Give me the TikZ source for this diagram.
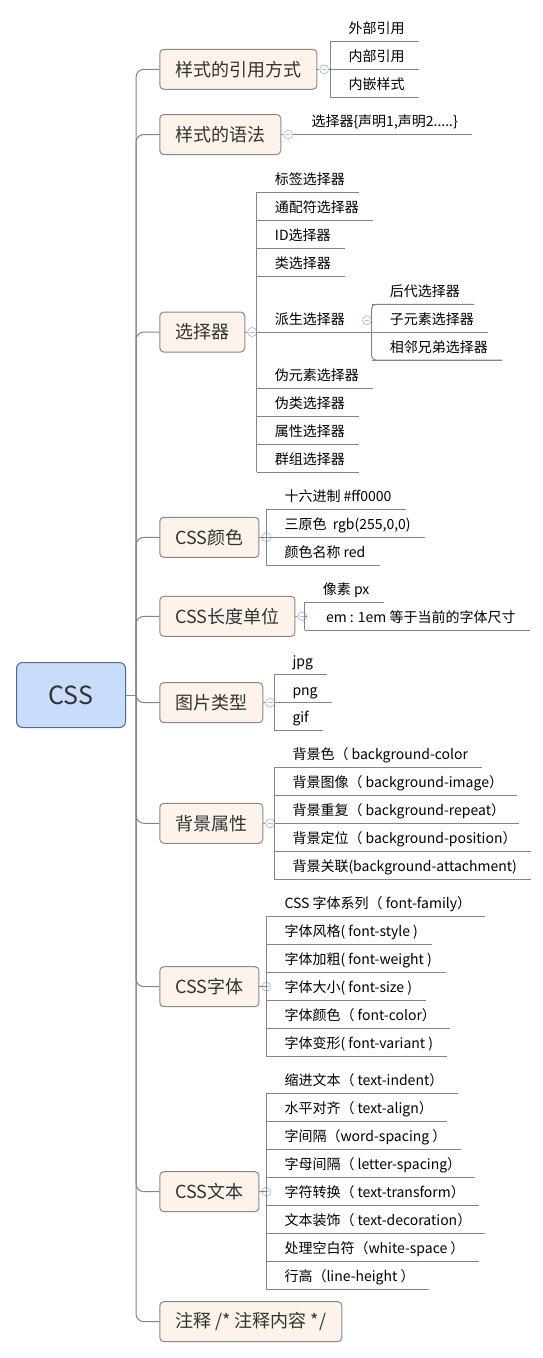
\documentclass[tikz,border=0pt]{standalone}
\usepackage{fontspec}
\setmainfont{Noto Sans CJK SC}
\usetikzlibrary{positioning}
\definecolor{rootfill}{HTML}{C9DCF9}
\definecolor{rootline}{HTML}{4F6B95}
\definecolor{boxfill}{HTML}{FDF3EA}
\definecolor{boxline}{HTML}{8E8781}
\definecolor{linegray}{HTML}{858585}
\definecolor{foldblue}{HTML}{A9C2EA}
\definecolor{txtgray}{HTML}{333333}
\begin{document}
\begin{tikzpicture}[x=1pt,y=-1pt,
    root/.style={draw=rootline,fill=rootfill,rounded corners=6pt,line width=1pt,
      minimum width=109pt,minimum height=65pt,text=txtgray,font=\fontsize{25}{28}\selectfont},
    topic/.style={draw=boxline,fill=boxfill,rounded corners=4pt,line width=1pt,anchor=west,
      minimum height=40pt,inner xsep=15.5pt,text=txtgray,font=\fontsize{18}{21}\selectfont},
    fold/.style={circle,draw=foldblue,fill=white,line width=0.8pt,inner sep=0pt,minimum size=9pt,
      path picture={\draw[foldblue,line width=0.8pt] ([xshift=-2.3pt]path picture bounding box.center) -- ([xshift=2.3pt]path picture bounding box.center);}},
    branch/.style={draw=linegray,line width=1pt,rounded corners=8pt},
    stem/.style={draw=linegray,line width=1pt},
    leaf/.style={anchor=south west,inner sep=0pt,text height=11pt,text depth=3pt,minimum height=23pt,
      font=\fontsize{14}{16}\selectfont,execute at begin node={\hspace*{18pt}},execute at end node={\hspace*{14pt}},
      append after command={(\tikzlastnode.south west) edge[stem] (\tikzlastnode.south east)}}]
    \useasboundingbox (0,0) rectangle (543,1358);
    % Root box
    \node[root] (css) at (71,695) {CSS};
    \coordinate (hub) at (136,695);
    \draw[stem] (css) -- (hub);
    % Main topic boxes
    \node[topic] (ref) at (159.3,69.3) {样式的引用方式};
    \node[topic] (syn) at (159.3,134.5) {样式的语法};
    \node[topic] (sel) at (159.3,332) {选择器};
    \node[topic] (col) at (159.3,537.3) {CSS颜色};
    \node[topic] (len) at (159.3,616.3) {CSS长度单位};
    \node[topic] (img) at (159.3,702.7) {图片类型};
    \node[topic] (bg) at (159.3,823.3) {背景属性};
    \node[topic] (fnt) at (159.3,986.7) {CSS字体};
    \node[topic] (txt) at (159.3,1191.7) {CSS文本};
    \node[topic] (cmt) at (159.3,1321.7) {注释 /* 注释内容 */};
    % Trunk and branches
    \foreach \t in {ref,syn,sel,col,len,img,bg,fnt,txt,cmt}
      \draw[branch] (hub) |- (\t.west);
    % Fold markers
    \node[fold,right=2pt of ref] (refF) {};
    \node[fold,right=2pt of syn] (synF) {};
    \node[fold,right=2pt of sel] (selF) {};
    \node[fold,right=2pt of col] (colF) {};
    \node[fold,right=2pt of len] (lenF) {};
    \node[fold,right=2pt of img] (imgF) {};
    \node[fold,right=2pt of bg] (bgF) {};
    \node[fold,right=2pt of fnt] (fntF) {};
    \node[fold,right=2pt of txt] (txtF) {};
    % Reference ways
    \node[leaf] (ref1) at (330.3,41.3) {外部引用};
    \node[leaf] (ref2) at (330.3,69.3) {内部引用};
    \node[leaf] (ref3) at (330.3,97.3) {内嵌样式};
    \draw[stem] (ref1.south west) -- (ref3.south west);
    \draw[stem] (ref) -- (refF) -- (refF -| ref1.south west);
    % Syntax
    \node[leaf] (syn1) at (293.3,134.5) {选择器\{声明1,声明2.....\}};
    \draw[stem] (syn) -- (synF) -- (syn1.south west);
    % Selectors
    \node[leaf] (sel1) at (256.7,192.3) {标签选择器};
    \node[leaf] (sel2) at (256.7,220) {通配符选择器};
    \node[leaf] (sel3) at (256.7,248.3) {ID选择器};
    \node[leaf] (sel4) at (256.7,276) {类选择器};
    \node[leaf] (sel5) at (256.7,332) {派生选择器};
    \node[leaf] (sel6) at (256.7,388) {伪元素选择器};
    \node[leaf] (sel7) at (256.7,416) {伪类选择器};
    \node[leaf] (sel8) at (256.7,444) {属性选择器};
    \node[leaf] (sel9) at (256.7,472) {群组选择器};
    \draw[stem] (sel1.south west) -- (sel9.south west);
    \draw[stem] (sel) -- (selF) -- (selF -| sel1.south west);
    % Derived selectors
    \node[fold,right=3pt of sel5] (derF) {};
    \node[leaf] (der1) at (371.7,304.3) {后代选择器};
    \node[leaf] (der2) at (371.7,332) {子元素选择器};
    \node[leaf] (der3) at (371.7,360) {相邻兄弟选择器};
    \draw[stem,rounded corners=4pt] (der1.south east) -- (der1.south west) -- (der3.south west) -- (der3.south east);
    \draw[stem] (sel5.south east) -- (der2.south west);
    % Colours
    \node[leaf] (col1) at (266.3,509) {十六进制 \#ff0000};
    \node[leaf] (col2) at (266.3,537.3) {三原色~~rgb(255,0,0)};
    \node[leaf] (col3) at (266.3,565) {颜色名称 red};
    \draw[stem] (col1.south west) -- (col3.south west);
    \draw[stem] (col) -- (colF) -- (colF -| col1.south west);
    % Length units
    \node[leaf] (len1) at (304.7,602.3) {像素 px};
    \node[leaf] (len2) at (304.7,630) {~em : 1em 等于当前的字体尺寸};
    \draw[stem] (len1.south west) -- (len2.south west);
    \draw[stem] (len) -- (lenF) -- (lenF -| len1.south west);
    % Image types
    \node[leaf] (img1) at (274.3,674.5) {jpg};
    \node[leaf] (img2) at (274.3,702.7) {png};
    \node[leaf] (img3) at (274.3,730.3) {gif};
    \draw[stem] (img1.south west) -- (img3.south west);
    \draw[stem] (img) -- (imgF) -- (imgF -| img1.south west);
    % Background
    \node[leaf] (bg1) at (274.3,767.3) {背景色（ background-color};
    \node[leaf] (bg2) at (274.3,795.3) {背景图像（ background-image）};
    \node[leaf] (bg3) at (274.3,823.3) {背景重复（ background-repeat）};
    \node[leaf] (bg4) at (274.3,851.3) {背景定位（ background-position）};
    \node[leaf] (bg5) at (274.3,879.3) {背景关联(background-attachment)};
    \draw[stem] (bg1.south west) -- (bg5.south west);
    \draw[stem] (bg) -- (bgF) -- (bgF -| bg1.south west);
    % Fonts
    \node[leaf] (fnt1) at (266.3,916) {CSS 字体系列（ font-family）};
    \node[leaf] (fnt2) at (266.3,944.3) {字体风格( font-style )};
    \node[leaf] (fnt3) at (266.3,972.3) {字体加粗( font-weight )};
    \node[leaf] (fnt4) at (266.3,1000.3) {字体大小( font-size )};
    \node[leaf] (fnt5) at (266.3,1028.3) {字体颜色（ font-color）};
    \node[leaf] (fnt6) at (266.3,1056.3) {字体变形( font-variant )};
    \draw[stem] (fnt1.south west) -- (fnt6.south west);
    \draw[stem] (fnt) -- (fntF) -- (fntF -| fnt1.south west);
    % Text
    \node[leaf] (txt1) at (266.3,1093.3) {缩进文本（ text-indent）};
    \node[leaf] (txt2) at (266.3,1121.3) {水平对齐（ text-align）};
    \node[leaf] (txt3) at (266.3,1149.3) {字间隔（word-spacing ）};
    \node[leaf] (txt4) at (266.3,1177.3) {字母间隔（ letter-spacing）};
    \node[leaf] (txt5) at (266.3,1205.3) {字符转换（ text-transform）};
    \node[leaf] (txt6) at (266.3,1233.3) {文本装饰（ text-decoration）};
    \node[leaf] (txt7) at (266.3,1261.3) {处理空白符（white-space ）};
    \node[leaf] (txt8) at (266.3,1289.3) {行高（line-height ）};
    \draw[stem] (txt1.south west) -- (txt8.south west);
    \draw[stem] (txt) -- (txtF) -- (txtF -| txt1.south west);
\end{tikzpicture}
\end{document}
